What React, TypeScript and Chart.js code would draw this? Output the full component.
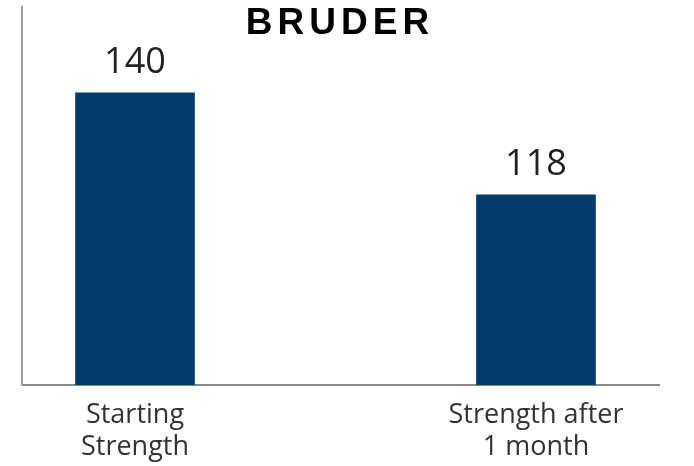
import React, { useEffect, useRef } from "react";
import { Chart, registerables } from "chart.js";

Chart.register(...registerables);

const TITLE = "BRUDER";
const CATEGORIES: string[][] = [["Starting", "Strength"], ["Strength after", "1 month"]];
const VALUES = [140, 118];
const BAR_COLOR = "#023a6b";

const titlePlugin = {
  id: "letterTitle",
  afterDraw(chart: any) {
    const ctx = chart.ctx;
    ctx.save();
    ctx.font = "bold 37px 'Liberation Sans', Arial, sans-serif";
    (ctx as any).letterSpacing = "5px";
    ctx.fillStyle = "#000";
    ctx.textAlign = "center";
    ctx.textBaseline = "alphabetic";
    ctx.fillText(TITLE, 340, 34);
    ctx.restore();
  },
};

const valueLabels = {
  id: "valueLabels",
  afterDatasetsDraw(chart: any) {
    const ctx = chart.ctx;
    const meta = chart.getDatasetMeta(0);
    ctx.save();
    ctx.font = "36px 'Open Sans', sans-serif";
    ctx.fillStyle = "#222";
    ctx.textAlign = "center";
    ctx.textBaseline = "alphabetic";
    meta.data.forEach((el: any, i: number) => {
      ctx.fillText(String(VALUES[i]), el.x, el.y - 20);
    });
    ctx.restore();
  },
};

export default function App() {
  const ref = useRef<HTMLCanvasElement | null>(null);
  useEffect(() => {
    document.body.style.margin = "0";
    const canvas = ref.current!;
    const chart = new Chart(canvas, {
      type: "bar",
      data: {
        datasets: [
          {
            data: VALUES.map((v, i) => ({ x: i, y: v })),
            backgroundColor: BAR_COLOR,
            barThickness: 119,
          },
        ],
      },
      options: {
        animation: false,
        responsive: false,
        maintainAspectRatio: false,
        layout: { padding: { left: 22, right: 35, top: 7, bottom: 0 } },
        plugins: { legend: { display: false }, tooltip: { enabled: false }, title: { display: false } },
        scales: {
          x: {
            type: "linear",
            offset: false,
            min: -0.2818,
            max: 1.3068,
            grid: { display: false, drawTicks: false, offset: false },
            border: { display: true, color: "#8a8a8a", width: 2 },
            afterBuildTicks: (scale: any) => {
              scale.ticks = CATEGORIES.map((_, i) => ({ value: i }));
            },
            afterFit: (scale: any) => {
              scale.height = 81;
            },
            ticks: {
              autoSkip: false,
              maxRotation: 0,
              padding: 14,
              color: "#333",
              font: { family: "'Open Sans', sans-serif", size: 27, lineHeight: 1.2 },
              callback: (v: any) => CATEGORIES[v as number] ?? "",
            },
          },
          y: {
            min: 77,
            max: 158.5,
            grid: { display: false, drawTicks: false },
            border: { display: true, color: "#a0a0a0", width: 2 },
            ticks: { display: false },
            afterFit: (scale: any) => {
              scale.width = 0;
            },
          },
        },
      },
      plugins: [valueLabels, titlePlugin],
    });
    return () => chart.destroy();
  }, []);
  return (
    <div style={{ width: 694, height: 466 }}>
      <canvas ref={ref} width={694} height={466} style={{ display: "block" }} />
    </div>
  );
}
